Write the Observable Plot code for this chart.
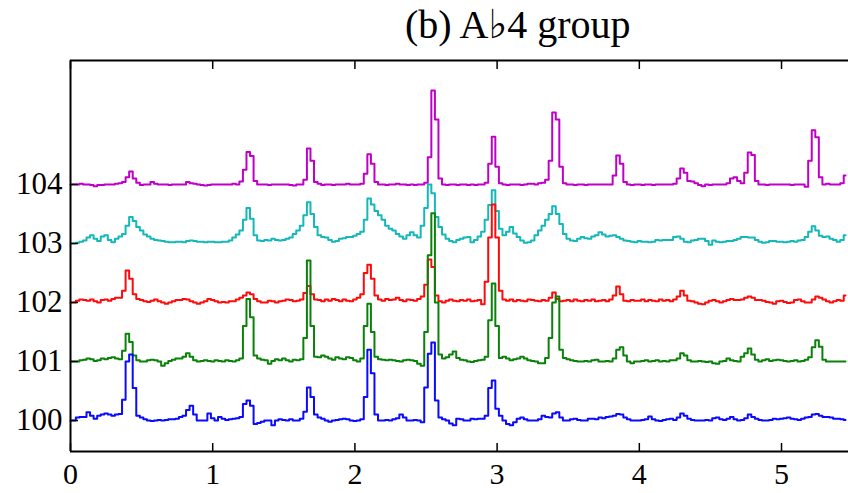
<!DOCTYPE html>
<html>
<head>
<meta charset="utf-8">
<script src="https://cdn.jsdelivr.net/npm/d3@7"></script>
<script src="https://cdn.jsdelivr.net/npm/@observablehq/plot@0.6"></script>
<style>
  html, body { margin: 0; padding: 0; background: #fff; overflow: hidden; }
  #title { height: 56px; position: relative; font-family: "Liberation Serif", "DejaVu Serif", serif; }
  #title span { position: absolute; left: 405px; top: 2px; font-size: 40px; line-height: 46px; color: #000; white-space: nowrap; }
  svg { display: block; }
</style>
</head>
<body>
<div id="title"><span>(b) A♭4 group</span></div>
<div id="chart"></div>
<script>
// sample interval along x
const dt = 0.025;
// series baselines (offset of each trace)
const baselines = [104, 103, 102, 101, 100];
const names = ["trace104", "trace103", "trace102", "trace101", "trace100"];
const colors = ["#c000c8", "#14b8b8", "#ff0a0a", "#0a820a", "#0a0aff"];
const xTicks = [0, 1, 2, 3, 4, 5];
const yTicks = [100, 101, 102, 103, 104];
const xDomain = [0, 5.471];
const yDomain = [99.475, 106.1];

// trace heights above baseline, in hundredths of a unit
const magenta = [
  0,0,0,1,0,0,-1,-3,-1,-1,0,0,0,1,2,4,12,22,10,3,
  -1,0,0,4,1,0,0,0,-1,0,0,0,0,4,2,1,0,-1,-2,-1,
  0,0,0,0,0,0,1,0,5,25,55,48,6,0,0,0,-1,0,0,0,
  0,0,-1,-2,0,0,8,61,40,4,1,-1,0,0,-1,0,0,0,1,0,
  0,0,1,18,51,35,4,0,0,-1,0,0,1,0,0,-1,0,-1,0,0,
  3,46,159,110,10,0,-1,0,0,-1,0,0,-1,0,-1,0,0,3,35,81,
  30,2,0,-1,0,0,0,-1,0,1,1,0,2,3,8,40,122,110,30,2,
  0,0,-1,0,0,-1,0,0,0,0,0,0,0,15,49,35,4,0,-1,0,
  0,-1,0,0,-1,0,0,0,0,0,1,10,27,20,6,5,2,-1,-3,0,
  -1,0,0,0,0,2,10,12,6,2,20,54,50,6,0,0,-1,0,0,0,
  0,0,0,-1,0,0,0,-4,40,92,80,12,0,1,0,0,0,2,15
];
const cyan = [
  0,0,1,3,5,10,14,8,4,12,14,6,2,8,12,16,30,45,38,28,
  22,15,12,8,6,5,4,3,2,2,3,3,2,4,5,4,3,3,2,3,
  3,2,2,3,3,5,10,15,22,40,60,42,14,5,4,6,5,8,6,5,
  6,8,10,16,22,30,48,70,50,28,14,11,10,6,3,4,8,9,11,11,
  13,16,20,40,76,66,55,48,40,30,25,22,16,12,8,14,19,14,10,30,
  60,100,85,45,28,15,8,4,2,6,8,10,11,2,6,12,20,40,65,90,
  55,25,14,20,28,17,11,5,1,2,5,14,22,30,40,50,63,50,33,16,
  8,5,4,8,11,9,8,12,14,19,15,12,13,14,11,8,5,4,3,2,
  4,3,3,2,3,6,5,6,6,6,11,12,8,3,2,5,6,8,8,4,
  -2,5,3,2,3,4,4,6,8,11,11,10,10,6,3,1,2,4,4,3,
  3,2,3,4,3,5,6,11,20,29,22,13,11,12,8,6,3,6,14
];
const red = [
  0,0,3,5,4,3,5,2,0,4,5,3,6,8,8,20,54,40,14,6,
  4,2,1,3,5,2,0,-2,0,2,4,4,6,5,2,0,-2,0,2,6,
  4,2,0,1,0,2,2,5,8,12,17,14,6,2,0,0,3,2,0,2,
  3,5,4,2,3,5,16,28,14,5,4,2,5,3,6,4,2,5,3,2,
  5,8,14,50,64,40,12,5,3,6,4,5,8,4,2,5,4,3,6,10,
  30,73,60,12,2,0,3,5,3,2,4,3,5,2,3,4,-3,35,110,166,
  110,20,5,3,5,2,4,3,2,5,4,3,2,4,3,8,17,6,2,3,
  4,2,5,3,2,4,3,5,2,3,4,2,5,12,27,14,3,2,4,3,
  3,5,2,4,3,2,5,3,4,2,5,10,20,12,3,2,0,-2,-3,0,
  3,4,2,0,2,4,6,4,4,5,8,10,8,4,4,3,1,0,-2,2,
  3,1,-1,0,4,5,2,0,0,5,10,8,5,2,0,2,4,3,12
];
const green = [
  0,0,0,2,3,5,4,1,2,5,4,6,7,5,4,18,47,33,10,2,
  0,0,2,3,2,0,-7,-3,1,3,5,5,8,14,8,2,0,1,2,1,
  0,2,1,0,2,1,0,2,5,60,106,75,10,5,3,2,-4,1,4,2,
  5,2,0,3,2,4,40,171,60,8,7,10,8,5,3,7,5,4,7,6,
  2,0,5,60,98,50,8,4,3,2,3,2,1,0,2,3,2,1,-4,-7,
  50,180,251,100,12,5,7,12,17,6,3,2,0,-1,1,2,3,8,70,132,
  60,6,8,5,2,4,5,8,5,2,1,0,-3,-3,6,40,100,110,20,6,
  4,2,1,0,0,1,0,2,3,0,0,1,0,5,20,24,10,0,-3,0,
  0,1,2,0,1,2,0,1,0,2,2,5,14,10,2,0,0,1,0,-1,
  0,-3,-4,0,1,5,2,1,0,8,14,22,12,3,0,2,4,1,2,3,
  2,1,0,1,2,0,1,3,7,24,36,25,3,0,0,0,0,0,0
];
const blue = [
  0,0,5,6,6,14,8,3,8,10,12,10,8,10,11,35,100,112,55,8,
  5,2,0,-1,0,1,0,1,2,2,3,6,8,18,25,10,0,0,0,12,
  4,0,6,3,1,2,3,4,6,28,34,25,-6,-4,-2,0,0,-8,0,2,
  1,0,2,0,0,3,15,56,40,10,5,3,0,-2,0,1,2,3,2,0,
  -1,0,2,40,120,80,10,0,0,1,0,2,4,10,5,0,0,1,0,-3,
  56,113,132,34,5,2,0,-5,-8,3,2,0,0,3,2,3,3,8,55,68,
  20,8,0,-6,-8,-3,3,5,2,0,0,0,2,8,6,5,12,14,5,0,
  0,2,3,1,0,0,3,3,2,5,4,6,7,8,11,10,5,2,0,0,
  0,1,2,7,2,0,-1,1,2,3,1,5,12,8,3,1,0,0,0,1,
  0,4,5,2,1,3,6,2,0,1,4,10,6,3,1,0,0,1,3,2,
  3,4,5,3,2,1,3,5,6,10,11,8,6,6,5,3,3,2,1
];

const seriesValues = [magenta, cyan, red, green, blue];
const rows = [];
seriesValues.forEach((vals, s) => {
  vals.forEach((v, i) => rows.push({series: names[s], x: i * dt, y: baselines[s] + v / 100}));
});

const font = "'Liberation Serif', 'DejaVu Serif', serif";
const fmt = d3.format("d");
const chart = Plot.plot({
  width: 848,
  height: 437,
  marginLeft: 70,
  marginRight: 0,
  marginTop: 4,
  marginBottom: 42,
  style: {fontFamily: font, fontSize: "30px", color: "#000", background: "#fff", overflow: "visible"},
  x: {domain: xDomain, ticks: xTicks},
  y: {domain: yDomain, ticks: yTicks},
  color: {type: "ordinal", domain: names, range: colors},
  marks: [
    Plot.line(rows, {x: "x", y: "y", z: "series", stroke: "series", strokeWidth: 2, curve: "step"}),
    Plot.axisX(xTicks, {anchor: "bottom", tickSize: -8, tickPadding: 19, tickFormat: fmt, strokeWidth: 1.5, label: null, fontSize: 30}),
    Plot.axisX(xTicks, {anchor: "top", tickSize: -8, tickFormat: () => "", strokeWidth: 1.5, label: null}),
    Plot.axisY(yTicks, {anchor: "left", tickSize: -8, tickPadding: 16, tickFormat: fmt, strokeWidth: 1.5, label: null, fontSize: 31}),
    Plot.ruleX([xDomain[0]], {stroke: "#000", strokeWidth: 2}),
    Plot.ruleY([yDomain[0], yDomain[1]], {stroke: "#000", strokeWidth: 2})
  ]
});
document.getElementById("chart").appendChild(chart);
</script>
</body>
</html>
